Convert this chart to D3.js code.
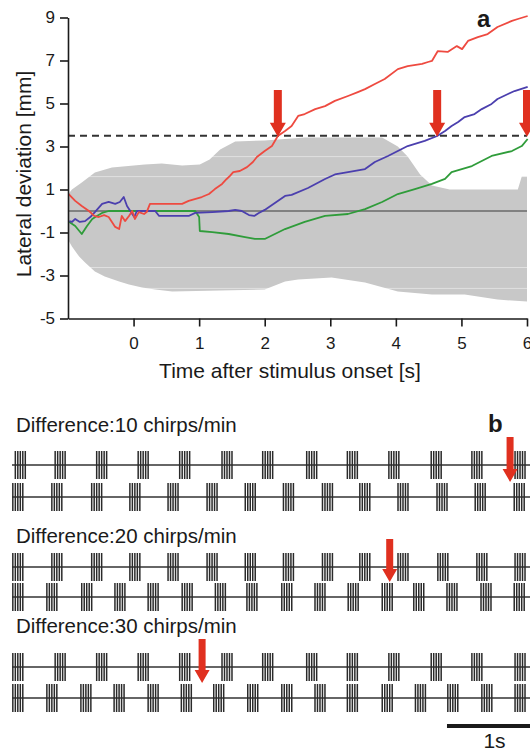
<!DOCTYPE html>
<html>
<head>
<meta charset="utf-8">
<script src="https://cdn.jsdelivr.net/npm/d3@7"></script>
<style>
  body { margin: 0; background: #fff; }
  svg { display: block; font-family: "Liberation Sans", Arial, sans-serif; }
</style>
</head>
<body>
<div id="chart"></div>
<script>
// ---- panel a data ----
var timeTicks = [0, 1, 2, 3, 4, 5, 6];
var devTicks = [9, 7, 5, 3, 1, -1, -3, -5];
var threshold = 3.5;
var crossTimes = [2.2, 4.63, 6.0];

// [time s, lateral deviation mm]
var redTrace = [[-0.99,0.79],[-0.89,0.47],[-0.79,0.23],[-0.68,0.0],[-0.60,-0.23],[-0.53,-0.28],[-0.45,-0.19],
  [-0.38,-0.28],[-0.33,-0.51],[-0.28,-0.74],[-0.22,-0.84],[-0.18,-0.23],[-0.13,-0.47],[-0.07,-0.23],[-0.02,0.0],
  [0.02,-0.37],[0.08,-0.05],[0.16,-0.14],[0.20,-0.05],[0.25,0.33],[0.43,0.33],[0.74,0.33],[0.84,0.47],[1.04,0.65],
  [1.15,0.79],[1.24,1.02],[1.35,1.26],[1.42,1.49],[1.47,1.63],[1.52,1.81],[1.62,1.86],[1.73,2.04],[1.82,2.28],
  [1.88,2.51],[2.00,2.79],[2.11,3.02],[2.20,3.49],[2.31,3.72],[2.41,3.95],[2.51,4.42],[2.61,4.51],[2.77,4.74],
  [2.92,4.88],[3.07,5.12],[3.27,5.35],[3.42,5.53],[3.53,5.67],[3.68,5.91],[3.83,6.14],[4.03,6.60],[4.18,6.74],
  [4.40,6.84],[4.49,6.93],[4.55,6.98],[4.64,7.44],[4.79,7.40],[4.93,7.67],[5.01,7.53],[5.10,7.91],[5.25,8.09],
  [5.40,8.23],[5.55,8.56],[5.77,8.84],[5.86,8.93],[6.01,9.07]];
var blueTrace = [[-0.98,-0.47],[-0.94,-0.51],[-0.89,-0.37],[-0.82,-0.51],[-0.74,-0.47],[-0.66,-0.28],[-0.59,-0.05],
  [-0.48,0.33],[-0.38,0.42],[-0.28,0.33],[-0.21,0.42],[-0.15,0.65],[-0.10,0.23],[-0.05,0.0],[0.01,-0.28],
  [0.05,0.0],[0.33,0.0],[0.39,-0.23],[0.84,-0.23],[0.94,-0.09],[1.20,-0.05],[1.45,0.0],[1.55,0.05],[1.65,0.0],
  [1.76,-0.19],[1.84,-0.23],[1.91,-0.09],[2.00,0.05],[2.31,0.70],[2.41,0.75],[2.66,1.07],[2.92,1.49],[3.07,1.70],
  [3.27,1.81],[3.53,1.95],[3.68,2.28],[3.88,2.56],[4.03,2.79],[4.18,3.02],[4.44,3.26],[4.63,3.49],[4.75,3.72],
  [4.85,3.95],[4.95,4.14],[5.05,4.37],[5.20,4.51],[5.31,4.74],[5.46,4.98],[5.55,5.21],[5.71,5.44],[5.81,5.58],
  [6.01,5.77]];
var greenTrace = [[-0.98,-0.51],[-0.89,-0.70],[-0.79,-1.07],[-0.71,-0.70],[-0.63,-0.37],[-0.56,-0.23],[-0.48,-0.09],
  [-0.38,0.0],[0.94,0.0],[1.00,-0.28],[1.01,-0.93],[1.20,-0.98],[1.45,-1.07],[1.70,-1.21],[1.85,-1.30],[2.00,-1.30],
  [2.31,-0.84],[2.61,-0.51],[2.92,-0.23],[3.27,-0.14],[3.53,0.09],[3.79,0.42],[4.03,0.79],[4.29,1.02],[4.55,1.26],
  [4.75,1.49],[4.85,1.81],[5.16,2.09],[5.46,2.56],[5.77,2.79],[5.92,3.02],[6.01,3.35]];

// grey range band
var bandUpper = [[-1.0,0.77],[-0.94,1.0],[-0.79,1.33],[-0.59,1.79],[-0.33,2.02],[0.17,2.16],[0.43,2.21],[0.74,2.12],
  [1.01,2.16],[1.16,2.40],[1.32,2.86],[1.55,3.23],[2.00,3.28],[2.61,3.42],[3.79,3.42],[4.03,3.0],[4.18,2.53],
  [4.37,1.70],[4.55,1.19],[4.82,1.0],[5.86,1.0],[5.92,1.60],[6.0,1.60]];
var bandLower = [[-1.0,-1.33],[-0.94,-1.65],[-0.83,-2.12],[-0.74,-2.40],[-0.59,-2.81],[-0.44,-3.05],[-0.22,-3.28],
  [-0.07,-3.42],[0.13,-3.56],[0.33,-3.65],[0.59,-3.74],[2.00,-3.65],[2.31,-3.28],[2.51,-3.19],[3.02,-3.09],
  [3.53,-3.33],[4.03,-3.74],[4.55,-3.88],[5.05,-3.88],[5.55,-4.12],[6.0,-4.21]];
var bandLines = [2.53, 1.6, -2.63, -3.6];

// ---- panel b data ----
var chirpLabels = ["Difference:10 chirps/min", "Difference:20 chirps/min", "Difference:30 chirps/min"];
// chirp onset times (s), two rows per pair
var chirpRows = [
  [[0.10,0.58,1.08,1.58,2.08,2.59,3.08,3.61,4.10,4.60,5.11,5.60,6.12],
   [0.07,0.54,1.02,1.48,1.94,2.41,2.87,3.33,3.80,4.25,4.71,5.18,5.64,6.11]],
  [[0.07,0.54,1.02,1.48,1.94,2.41,2.87,3.33,3.80,4.25,4.71,5.19,5.66,6.12],
   [0.07,0.48,0.90,1.30,1.70,2.11,2.51,2.89,3.31,3.71,4.11,4.52,4.90,5.30,5.71,6.11]],
  [[0.07,0.58,1.08,1.58,2.08,2.59,3.08,3.61,4.10,4.60,5.11,5.60,6.12],
   [0.07,0.48,0.89,1.29,1.70,2.10,2.49,2.90,3.31,3.71,4.10,4.52,4.92,5.31,5.72,6.12]]
];
var pulseOffsets = [-0.06, -0.03, 0, 0.03, 0.06];
var syncTimes = [6.0, 4.55, 2.29];
var scaleBar = [5.24, 6.24];

var W = 530, H = 751;
var red = "#ee4a40", blue = "#4b3fae", green = "#2f9c3a", arrowRed = "#e0301f", ink = "#1a1a1a";

var svg = d3.select("#chart").append("svg")
    .attr("width", W)
    .attr("height", H);

// ===== panel a =====
var x = d3.scaleLinear().domain([-1, 6]).range([68, 527]);
var y = d3.scaleLinear().domain([-5, 9]).range([318.5, 17.5]);

var pt = d3.line().x(d => x(d[0])).y(d => y(d[1]));

// band
svg.append("path")
    .attr("d", pt(bandUpper.concat(bandLower.slice().reverse())) + "Z")
    .attr("fill", "#c8c8c8");

svg.selectAll(".bandline").data(bandLines).enter().append("line")
    .attr("x1", x(-0.9)).attr("x2", x(6))
    .attr("y1", d => y(d)).attr("y2", d => y(d))
    .attr("stroke", "#fff").attr("stroke-opacity", 0.45).attr("stroke-width", 1);

// zero line
svg.append("line")
    .attr("x1", x(-1)).attr("x2", x(6))
    .attr("y1", y(0)).attr("y2", y(0))
    .attr("stroke", "#6a6a6a").attr("stroke-width", 1.6);

// threshold
svg.append("line")
    .attr("x1", x(-1)).attr("x2", x(6))
    .attr("y1", y(threshold)).attr("y2", y(threshold))
    .attr("stroke", "#333").attr("stroke-width", 2)
    .attr("stroke-dasharray", "7,5");

[[greenTrace, green], [blueTrace, blue], [redTrace, red]].forEach(function(s) {
    svg.append("path")
        .attr("d", pt(s[0]))
        .attr("fill", "none")
        .attr("stroke", s[1])
        .attr("stroke-width", 1.8)
        .attr("stroke-linejoin", "round");
});

// axes, plain hyphen minus like the figure
var fmt = d => String(d);
var yAxis = d3.axisLeft(y).tickValues(devTicks).tickFormat(fmt).tickSizeInner(8).tickSizeOuter(0).tickPadding(5);
var xAxis = d3.axisBottom(x).tickValues(timeTicks).tickFormat(fmt).tickSizeInner(8).tickSizeOuter(0).tickPadding(10);

var gy = svg.append("g").attr("transform", "translate(" + x(-1) + ",0)").call(yAxis);
var gx = svg.append("g").attr("transform", "translate(0," + y(-5) + ")").call(xAxis);
[gx, gy].forEach(function(g) {
    g.selectAll("path, line").attr("stroke", ink).attr("stroke-width", 1.6);
    g.selectAll("text").attr("fill", ink).style("font-size", "17px")
        .style("font-family", "'Liberation Sans', Arial, sans-serif");
});

svg.append("text")
    .attr("x", 290)
    .attr("y", 378)
    .attr("text-anchor", "middle")
    .attr("fill", ink)
    .style("font-size", "21px")
    .text("Time after stimulus onset [s]");

svg.append("text")
    .attr("transform", "translate(31,174) rotate(-90)")
    .attr("text-anchor", "middle")
    .attr("fill", ink)
    .style("font-size", "21px")
    .text("Lateral deviation [mm]");

// arrows
function arrow(g, cx, top, tip, shaft, head, headLen) {
    g.append("path")
        .attr("d", "M" + (cx - shaft / 2) + "," + top +
            "L" + (cx + shaft / 2) + "," + top +
            "L" + (cx + shaft / 2) + "," + (tip - headLen) +
            "L" + (cx + head / 2) + "," + (tip - headLen) +
            "L" + cx + "," + tip +
            "L" + (cx - head / 2) + "," + (tip - headLen) +
            "L" + (cx - shaft / 2) + "," + (tip - headLen) + "Z")
        .attr("fill", arrowRed);
}
crossTimes.forEach(function(t) {
    arrow(svg, x(t), 90, y(threshold) + 1, 8, 16, 14);
});

svg.append("text")
    .attr("x", 477).attr("y", 27)
    .attr("fill", ink)
    .style("font-size", "24px").style("font-weight", "bold")
    .text("a");

// ===== panel b =====
var tx = d3.scaleLinear().domain([0, 6.24]).range([12, 530]);
var labelY = [432, 543, 633];
var rowY = [[465, 497], [567, 597], [667, 698]];
var halfTick = 14;

chirpRows.forEach(function(pair, gi) {
    svg.append("text")
        .attr("x", 16).attr("y", labelY[gi])
        .attr("fill", ink)
        .style("font-size", "20.5px")
        .text(chirpLabels[gi]);

    pair.forEach(function(times, ri) {
        var cy = rowY[gi][ri];
        var row = svg.append("g");
        row.append("line")
            .attr("x1", tx(0)).attr("x2", W)
            .attr("y1", cy).attr("y2", cy)
            .attr("stroke", "#333").attr("stroke-width", 1.6);
        var pulses = [];
        times.forEach(function(t) {
            pulseOffsets.forEach(function(o) { pulses.push(t + o); });
        });
        row.selectAll("line.p").data(pulses).enter().append("line")
            .attr("class", "p")
            .attr("x1", d => tx(d)).attr("x2", d => tx(d))
            .attr("y1", cy - halfTick).attr("y2", cy + halfTick)
            .attr("stroke", "#2a2a2a").attr("stroke-width", 1.5);
    });

    arrow(svg, tx(syncTimes[gi]), rowY[gi][0] - 28, rowY[gi][1] - halfTick - 1, 7, 15, 13);
});

svg.append("text")
    .attr("x", 488).attr("y", 432)
    .attr("fill", ink)
    .style("font-size", "24px").style("font-weight", "bold")
    .text("b");

// scale bar
svg.append("line")
    .attr("x1", tx(scaleBar[0])).attr("x2", tx(scaleBar[1]))
    .attr("y1", 726).attr("y2", 726)
    .attr("stroke", ink).attr("stroke-width", 4);
svg.append("text")
    .attr("x", (tx(scaleBar[0]) + tx(scaleBar[1])) / 2 + 6)
    .attr("y", 748)
    .attr("text-anchor", "middle")
    .attr("fill", ink)
    .style("font-size", "21px")
    .text("1s");
</script>
</body>
</html>
